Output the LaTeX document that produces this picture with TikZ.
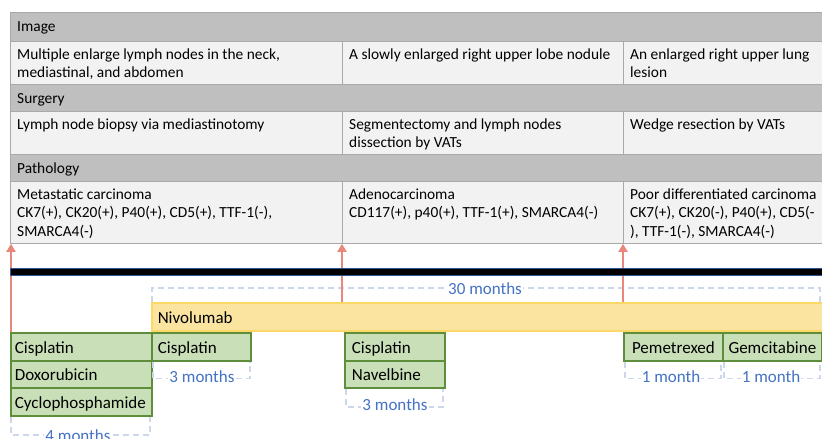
\documentclass[tikz,border=0pt]{standalone}
\usepackage{fontspec}
\setmainfont{Carlito}
\usetikzlibrary{arrows.meta}
\definecolor{hdrc}{HTML}{BFBFBF}
\definecolor{cellc}{HTML}{F2F2F2}
\definecolor{bordc}{HTML}{A9A9A9}
\definecolor{grnf}{HTML}{C9DFB7}
\definecolor{grnb}{HTML}{5E8D3C}
\definecolor{yelf}{HTML}{FAE4A0}
\definecolor{yelb}{HTML}{FCD867}
\definecolor{arrc}{HTML}{E8877B}
\definecolor{dashc}{HTML}{CCD7EC}
\definecolor{labc}{HTML}{4472C4}
\definecolor{tlb}{HTML}{2F5597}
\newcommand\tabfont{\fontsize{15.4}{18.8}\selectfont}
\newcommand\bigfont{\fontsize{17}{20}\selectfont}
\begin{document}
\begin{tikzpicture}[x=1pt,y=-1pt,
 hcell/.style={draw=bordc, fill=hdrc, line width=0.8pt, anchor=north west, inner sep=0pt},
 ccell/.style={draw=bordc, fill=cellc, line width=0.8pt, anchor=north west, inner sep=0pt},
 htext/.style={anchor=base west, inner sep=0pt, font=\tabfont},
 ctext/.style={anchor=north west, inner sep=0pt, font=\tabfont, align=left},
 gbox/.style={draw=grnb, fill=grnf, line width=1.8pt, anchor=north west, minimum height=27.7pt, inner ysep=0pt, text height=13pt, text depth=0pt, font=\bigfont},
 arr/.style={draw=arrc, line width=2.6pt, -{Triangle[width=9pt,length=8pt]}},
 brk/.style={draw=dashc, line width=1.5pt, dash pattern=on 6pt off 4pt},
 blabel/.style={anchor=base, text=labc, font=\bigfont, fill=white, inner xsep=1pt, inner ysep=0pt}
]
\useasboundingbox (0,0) rectangle (822,439);

% table
\node[hcell, minimum width=820pt, minimum height=29pt] (hImg) at (10,12) {};
\node[ccell, minimum width=332pt, minimum height=43pt] (c11) at (10,41) {};
\node[ccell, minimum width=281pt, minimum height=43pt] (c12) at (342,41) {};
\node[ccell, minimum width=207pt, minimum height=43pt] (c13) at (623,41) {};
\node[hcell, minimum width=820pt, minimum height=27pt] (hSur) at (10,84) {};
\node[ccell, minimum width=332pt, minimum height=43pt] (c21) at (10,111) {};
\node[ccell, minimum width=281pt, minimum height=43pt] (c22) at (342,111) {};
\node[ccell, minimum width=207pt, minimum height=43pt] (c23) at (623,111) {};
\node[hcell, minimum width=820pt, minimum height=27pt] (hPat) at (10,154) {};
\node[ccell, minimum width=332pt, minimum height=62pt] (c31) at (10,181) {};
\node[ccell, minimum width=281pt, minimum height=62pt] (c32) at (342,181) {};
\node[ccell, minimum width=207pt, minimum height=62pt] (c33) at (623,181) {};

\node[htext] (tImg) at (17,31) {Image};
\node[htext] (tSur) at (17,103) {Surgery};
\node[htext] (tPat) at (17,173) {Pathology};

\node[ctext] (t11) at (17,45.8) {\strut Multiple enlarge lymph nodes in the neck,\\mediastinal, and abdomen};
\node[ctext] (t12) at (349,45.8) {\strut A slowly enlarged right upper lobe nodule};
\node[ctext] (t13) at (630,45.8) {\strut An enlarged right upper lung\\lesion};
\node[ctext] (t21) at (17,115.8) {\strut Lymph node biopsy via mediastinotomy};
\node[ctext] (t22) at (349,115.8) {\strut Segmentectomy and lymph nodes\\dissection by VATs};
\node[ctext] (t23) at (630,115.8) {\strut Wedge resection by VATs};
\node[ctext] (t31) at (17,185.8) {\strut Metastatic carcinoma\\CK7(+), CK20(+), P40(+), CD5(+), TTF-1(-),\\SMARCA4(-)};
\node[ctext] (t32) at (349,185.8) {\strut Adenocarcinoma\\CD117(+), p40(+), TTF-1(+), SMARCA4(-)};
\node[ctext] (t33) at (630,185.8) {\strut Poor differentiated carcinoma\\CK7(+), CK20(-), P40(+), CD5(-\\), TTF-1(-), SMARCA4(-)};

% nivolumab bar
\node[draw=yelb, fill=yelf, line width=1.5pt, anchor=north west, minimum width=685pt, minimum height=28pt, inner xsep=6pt, inner ysep=0pt, text width=673pt, text height=13pt, text depth=0pt, font=\bigfont] (nivo) at (151,302) {Nivolumab};

% green boxes
\node[gbox, minimum width=141pt, text width=133pt, inner xsep=4pt] (cisA) at (10,332) {Cisplatin};
\node[gbox, minimum width=141pt, text width=133pt, inner xsep=4pt] (doxo) at (10,359.7) {Doxorubicin};
\node[gbox, minimum width=141pt, text width=133pt, inner xsep=4pt] (cycl) at (10,387.4) {Cyclophosphamide};
\node[gbox, minimum width=99pt, text width=87pt, inner xsep=6pt] (cisB) at (151,332) {Cisplatin};
\node[gbox, minimum width=100pt, text width=86pt, inner xsep=7pt] (cisC) at (344,332) {Cisplatin};
\node[gbox, minimum width=100pt, text width=86pt, inner xsep=7pt] (nave) at (344,359.7) {Navelbine};
\node[gbox, minimum width=99pt, text width=93pt, inner xsep=3pt, align=center] (peme) at (623,332) {Pemetrexed};
\node[gbox, minimum width=99pt, text width=95pt, inner xsep=2pt, align=center] (gemc) at (722,332) {Gemcitabine};

% brackets
\coordinate (b30r) at (820,302);
\draw[brk] ([xshift=1pt]nivo.north west) -- ++(0,-14) -| (b30r);
\node[blabel] (l30) at (485,294) {30 months};
\draw[brk] ([xshift=1pt]cycl.south west) -- ++(0,18) -| ([xshift=-3pt]cycl.south east);
\node[blabel] (l4) at (78,441) {4 months};
\draw[brk] ([xshift=2pt]cisB.south west) -- ++(0,17) -| ([xshift=-2pt]cisB.south east);
\node[blabel] (l3a) at (202,382) {3 months};
\draw[brk] ([xshift=2pt]nave.south west) -- ++(0,18) -| ([xshift=-3pt]nave.south east);
\node[blabel] (l3b) at (395,410) {3 months};
\draw[brk] ([xshift=2pt]peme.south west) -- ++(0,17) -| ([xshift=-3pt]peme.south east);
\node[blabel] (l1a) at (671,382) {1 month};
\draw[brk] ([xshift=2pt]gemc.south west) -- ++(0,17) -| ([xshift=-3pt]gemc.south east);
\node[blabel] (l1b) at (771,382) {1 month};

% arrows
\draw[arr] ([xshift=1pt]cisA.north west) -- ([xshift=1pt]c31.south west);
\draw[arr] (nivo.north -| c32.south west) -- (c32.south west);
\draw[arr] (nivo.north -| c33.south west) -- (c33.south west);

% timeline
\node[draw=tlb, fill=black, line width=0.8pt, anchor=north west, minimum width=830pt, minimum height=7pt, inner sep=0pt] (tl) at (10,268) {};
\end{tikzpicture}
\end{document}
